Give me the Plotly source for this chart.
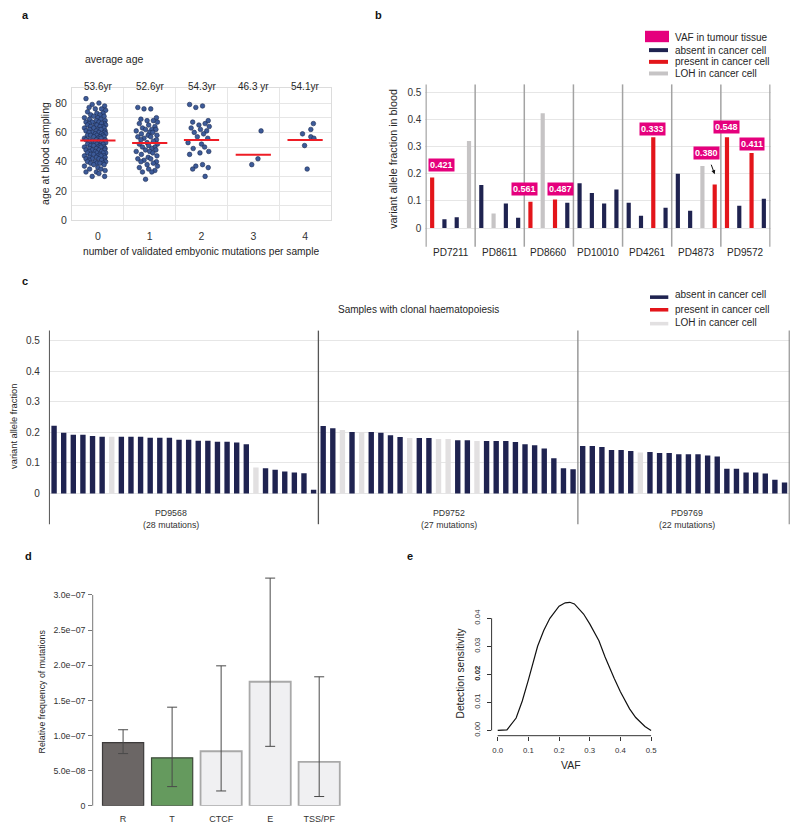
import plotly.graph_objects as go

W, H = 800, 836
FONT = "Liberation Sans, Arial, Helvetica, sans-serif"
TXT = "#262626"

# ---------------- panel a data ----------------
a_mutation_counts = [0, 1, 2, 3, 4]
a_ages_0 = [83, 80, 79, 78, 77, 76, 76, 75, 74, 73, 73, 72, 72, 71, 71, 70, 70, 69, 69, 68,
            68, 67, 67, 67, 66, 66, 66, 65, 65, 65, 65, 64, 64, 64, 63, 63, 63, 62, 62, 62,
            61, 61, 61, 60, 60, 60, 60, 59, 59, 59, 58, 58, 58, 58, 57, 57, 57, 56, 56, 56,
            55, 55, 55, 55, 54, 54, 54, 53, 53, 53, 53, 52, 52, 52, 51, 51, 51, 50, 50, 50,
            50, 49, 49, 49, 48, 48, 48, 48, 47, 47, 47, 46, 46, 46, 46, 45, 45, 45, 44, 44,
            44, 44, 43, 43, 43, 42, 42, 42, 41, 41, 41, 40, 40, 40, 39, 39, 39, 39, 38, 38,
            37, 36, 35, 35, 34, 33, 33, 32, 30, 30]
a_ages_1 = [77, 76, 76, 70, 69, 68, 68, 67, 66, 65, 64, 63, 62, 62, 62, 61, 60, 60, 59, 58,
            58, 57, 57, 56, 55, 55, 54, 53, 52, 52, 51, 50, 50, 49, 48, 48, 47, 47, 46, 45,
            44, 43, 42, 42, 41, 40, 40, 39, 38, 37, 36, 35, 34, 33, 33, 28]
a_ages_2 = [79, 78, 77, 68, 67, 66, 65, 64, 63, 62, 61, 60, 59, 57, 56, 53, 52, 50, 49, 47,
            46, 45, 38, 37, 36, 35, 30]
a_ages_3 = [61, 42, 38]
a_ages_4 = [59, 62, 66, 51, 57, 56, 35]
a_mean_age = [54.5, 52.8, 54.8, 44.8, 54.8]
a_avg_labels = ["53.6yr", "52.6yr", "54.3yr", "46.3 yr", "54.1yr"]

# horizontal jitter (display only)
JITTER = [-0.21, 0.04, -0.09, 0.15, -0.15, 0.09, -0.03, 0.17, -0.18, 0.0, 0.12, -0.12,
          0.06, -0.06, 0.14, -0.24, 0.02, 0.08, -0.14, 0.16, -0.01]
a_jitter_3 = [0.15, 0.09, -0.03]
a_jitter_4 = [-0.05, 0.11, 0.16, -0.01, 0.11, 0.17, 0.04]

# ---------------- panel b data ----------------
b_samples = ["PD7211", "PD8611", "PD8660", "PD10010", "PD4261", "PD4873", "PD9572"]
b_vaf = [0.186, 0.032, 0.040, 0.320,
         0.158, 0.054, 0.090, 0.038,
         0.097, 0.422, 0.105, 0.093,
         0.165, 0.129, 0.090, 0.142,
         0.093, 0.045, 0.334, 0.075,
         0.200, 0.064, 0.228, 0.160,
         0.334, 0.082, 0.276, 0.108]
b_status = ["present", "absent", "absent", "LOH",
            "absent", "LOH", "absent", "absent",
            "present", "LOH", "present", "absent",
            "absent", "absent", "absent", "absent",
            "absent", "absent", "present", "absent",
            "absent", "absent", "LOH", "present",
            "present", "absent", "present", "absent"]
b_tumour_vaf = ["0.421", "0.561", "0.487", "0.333", "0.380", "0.548", "0.411"]
b_tumour_bar = [0, 8, 10, 18, 23, 24, 26]

# ---------------- panel c data ----------------
c_samples = ["PD9568", "PD9752", "PD9769"]
c_counts = [28, 27, 22]
c_vaf = [0.221, 0.198, 0.192, 0.192, 0.188, 0.185, 0.185, 0.185, 0.185, 0.185,
         0.182, 0.182, 0.182, 0.175, 0.175, 0.172, 0.172, 0.169, 0.169, 0.166,
         0.161, 0.085, 0.082, 0.077, 0.072, 0.068, 0.066, 0.012,
         0.220, 0.213, 0.207, 0.201, 0.201, 0.201, 0.198, 0.190, 0.184, 0.181,
         0.181, 0.181, 0.178, 0.178, 0.174, 0.174, 0.171, 0.171, 0.171, 0.171,
         0.168, 0.161, 0.157, 0.147, 0.115, 0.082, 0.079,
         0.155, 0.155, 0.152, 0.142, 0.142, 0.139, 0.134, 0.135, 0.132, 0.132,
         0.128, 0.128, 0.128, 0.124, 0.121, 0.081, 0.081, 0.068, 0.068, 0.065,
         0.045, 0.036]
c_status = (["absent"] * 6 + ["LOH"] + ["absent"] * 14 + ["LOH"] + ["absent"] * 6
            + ["absent", "absent", "LOH", "absent", "LOH", "absent", "absent", "absent",
               "absent", "LOH", "absent", "absent", "LOH", "LOH", "absent", "absent",
               "LOH"] + ["absent"] * 10
            + ["absent"] * 6 + ["LOH"] + ["absent"] * 15)

# ---------------- panel d data ----------------
d_regions = ["R", "T", "CTCF", "E", "TSS/PF"]
d_freq = [0.900e-7, 0.683e-7, 0.777e-7, 1.766e-7, 0.627e-7]
d_low = [0.744e-7, 0.274e-7, 0.212e-7, 0.847e-7, 0.133e-7]
d_high = [1.083e-7, 1.404e-7, 1.992e-7, 3.240e-7, 1.836e-7]
d_ticks = [0, 0.5e-7, 1.0e-7, 1.5e-7, 2.0e-7, 2.5e-7, 3.0e-7]
d_ticktext = ["0", "5.0e\u221208", "1.0e\u221207", "1.5e\u221207", "2.0e\u221207",
              "2.5e\u221207", "3.0e\u221207"]

# ---------------- panel e data ----------------
e_vaf = [0.00, 0.02, 0.03, 0.06, 0.08, 0.10, 0.13, 0.15, 0.17, 0.20, 0.22, 0.235,
         0.25, 0.28, 0.30, 0.33, 0.35, 0.38, 0.40, 0.43, 0.45, 0.48, 0.50]
e_sensitivity = [0.0, 0.0, 0.0002, 0.0044, 0.0105, 0.018, 0.030, 0.0356, 0.040, 0.0443,
                 0.0455, 0.0457, 0.0451, 0.0415, 0.038, 0.032, 0.0262, 0.0185, 0.0138,
                 0.0077, 0.0046, 0.0014, 0.0]

# ---------------- styles ----------------
NAVY = "#1f2350"
RED = "#e3151a"
LOH_B = "#c6c4c5"
LOH_C = "#e2e0e1"
PINK = "#e5007d"
GRID = "#e6e6e6"
b_colors = {"absent": NAVY, "present": RED, "LOH": LOH_B}
c_colors = {"absent": NAVY, "present": RED, "LOH": LOH_C}


def xd(a, b):
    return [a / W, b / W]


def yd(top, bottom):
    return [1 - bottom / H, 1 - top / H]


def px(x):
    return x / W


def py(y):
    return 1 - y / H


fig = go.Figure()

# ---- panel a traces ----
a_groups = [a_ages_0, a_ages_1, a_ages_2, a_ages_3, a_ages_4]
ax_pts, ay_pts = [], []
for c, ages in zip(a_mutation_counts, a_groups):
    if c == 3:
        offs = a_jitter_3
    elif c == 4:
        offs = a_jitter_4
    else:
        offs = [JITTER[k % len(JITTER)] - 0.02 for k in range(len(ages))]
    for age, o in zip(ages, offs):
        ax_pts.append(c + o)
        ay_pts.append(age)
fig.add_trace(go.Scatter(x=ax_pts, y=ay_pts, mode="markers", xaxis="x", yaxis="y",
                         marker=dict(size=4.6, color="#3d5b99",
                                     line=dict(color="#1b2a50", width=0.6)),
                         hoverinfo="skip"))
mx, my = [], []
for c, m in zip(a_mutation_counts, a_mean_age):
    mx += [c - 0.34, c + 0.34, None]
    my += [m, m, None]
fig.add_trace(go.Scatter(x=mx, y=my, mode="lines", xaxis="x", yaxis="y",
                         line=dict(color="#ee1c25", width=2), hoverinfo="skip"))

# ---- panel b traces ----
for s in ["absent", "present", "LOH"]:
    idx = [i for i, st in enumerate(b_status) if st == s]
    fig.add_trace(go.Bar(x=idx, y=[b_vaf[i] for i in idx], width=0.34,
                         marker=dict(color=b_colors[s], line=dict(width=0)),
                         xaxis="x2", yaxis="y2", hoverinfo="skip"))

# ---- panel c traces ----
for s in ["absent", "LOH"]:
    idx = [i for i, st in enumerate(c_status) if st == s]
    fig.add_trace(go.Bar(x=idx, y=[c_vaf[i] for i in idx], width=0.56,
                         marker=dict(color=c_colors[s], line=dict(width=0)),
                         xaxis="x3", yaxis="y3", hoverinfo="skip"))

# ---- panel d traces ----
fig.add_trace(go.Bar(
    x=list(range(len(d_regions))), y=d_freq, width=0.84,
    marker=dict(color=["#6b6665", "#659a5e", "#f0f0f2", "#f0f0f2", "#f0f0f2"],
                line=dict(color=["#3d3b3b", "#3d4a3a", "#a9a9a9", "#a9a9a9", "#a9a9a9"],
                          width=[1.2, 1.2, 1.8, 1.8, 1.8])),
    error_y=dict(type="data", symmetric=False,
                 array=[h - v for h, v in zip(d_high, d_freq)],
                 arrayminus=[v - l for v, l in zip(d_freq, d_low)],
                 color="#4a4a4a", thickness=1, width=5),
    xaxis="x4", yaxis="y4", hoverinfo="skip"))

# ---- panel e traces ----
fig.add_trace(go.Scatter(x=e_vaf, y=e_sensitivity, mode="lines", xaxis="x5", yaxis="y5",
                         line=dict(color="#111111", width=1.2), hoverinfo="skip"))

annotations = []
shapes = []


def ann(x, y, text, size=10, xanchor="center", yanchor="middle", angle=0, color=TXT,
        xref="paper", yref="paper", bold=False):
    annotations.append(dict(
        x=px(x) if xref == "paper" else x, y=py(y) if yref == "paper" else y,
        xref=xref, yref=yref, text=("<b>%s</b>" % text) if bold else text,
        showarrow=False, xanchor=xanchor, yanchor=yanchor, textangle=angle,
        font=dict(family=FONT, size=size, color=color)))


# panel letters
ann(25, 15, "a", 11, bold=True, color="#111")
ann(378, 15, "b", 11, bold=True, color="#111")
ann(25, 283, "c", 11, bold=True, color="#111")
ann(29, 560, "d", 11, bold=True, color="#111")
ann(410, 560, "e", 11, bold=True, color="#111")

# panel a texts
ann(83, 59, "average age", 10.5, xanchor="left")
for c, lab in zip(a_mutation_counts, a_avg_labels):
    annotations.append(dict(x=c, y=py(80), xref="x", yref="paper", text=lab,
                            showarrow=False, font=dict(family=FONT, size=10, color=TXT)))
ann(45, 155, "age at blood sampling", 10.5, angle=-90)
ann(201, 253, "number of validated embyonic mutations per sample", 10.2)

# panel b texts
ann(393, 160, "variant allele fraction in blood", 10.8, angle=-90)
for g, name in enumerate(b_samples):
    annotations.append(dict(x=4 * g + 1.5, y=py(246.5), xref="x2", yref="paper", text=name,
                            showarrow=False, font=dict(family=FONT, size=10, color=TXT)))
b_label_pos = [(0.72, 0.233), (7.5, 0.144), (10.44, 0.144), (17.97, 0.365),
               (22.34, 0.277), (24.0, 0.371), (26.03, 0.31)]
for (lx, ly), lab in zip(b_label_pos, b_tumour_vaf):
    annotations.append(dict(x=lx, y=ly, xref="x2", yref="y2", text="<b>%s</b>" % lab,
                            showarrow=False, bgcolor=PINK, borderpad=1,
                            font=dict(family=FONT, size=9, color="white")))
arrow_bar = b_tumour_bar[4]
annotations.append(dict(x=arrow_bar, y=b_vaf[arrow_bar] + 0.038, xref="x2", yref="y2",
                        text="", showarrow=True, ax=-4, ay=-11, arrowhead=2,
                        arrowsize=0.8, arrowwidth=1, arrowcolor="#111", standoff=0))
# legend b
shapes.append(dict(type="rect", xref="paper", yref="paper", x0=px(645), x1=px(669),
                   y0=py(42.5), y1=py(31), fillcolor=PINK, line=dict(width=0)))
for yy, col in [(50.5, NAVY), (62.3, RED), (74, LOH_B)]:
    shapes.append(dict(type="rect", xref="paper", yref="paper", x0=px(649), x1=px(668),
                       y0=py(yy + 2), y1=py(yy - 2), fillcolor=col, line=dict(width=0)))
for yy, t in [(37.5, "VAF in tumour tissue"), (50.5, "absent in cancer cell"),
              (62.3, "present in cancer cell"), (74.3, "LOH in cancer cell")]:
    ann(673, yy, t, 10, xanchor="left")

# panel c texts
ann(418, 311.7, "Samples with clonal haematopoiesis", 10)
ann(14, 430, "variant allele fraction", 9.3, angle=-90)
c_label_x = [12.2, 41.1, 65.9]
for lx, name, n in zip(c_label_x, c_samples, c_counts):
    annotations.append(dict(x=lx, y=py(516.7), xref="x3", yref="paper", text=name,
                            showarrow=False, font=dict(family=FONT, size=8.8, color="#333")))
    annotations.append(dict(x=lx, y=py(529), xref="x3", yref="paper",
                            text="(%d mutations)" % n, showarrow=False,
                            font=dict(family=FONT, size=8.8, color="#333")))
for yy, col in [(299.3, NAVY), (312, RED), (326, LOH_C)]:
    shapes.append(dict(type="rect", xref="paper", yref="paper", x0=px(650), x1=px(668.3),
                       y0=py(yy + 1.8), y1=py(yy - 1.8), fillcolor=col, line=dict(width=0)))
for yy, t in [(296.7, "absent in cancer cell"), (311.3, "present in cancer cell"),
              (325.3, "LOH in cancer cell")]:
    ann(673, yy, t, 10, xanchor="left")

# group separators b
for k in range(len(b_samples) + 1):
    shapes.append(dict(type="line", xref="x2", yref="paper", x0=4 * k - 0.5, x1=4 * k - 0.5,
                       y0=py(248.5), y1=py(85), line=dict(color="#a3a3a3", width=1.5)))
# group separators c
bounds = [-0.5]
for n in c_counts:
    bounds.append(bounds[-1] + n)
sep_cols = ["#555555", "#555555", "#8a8a8a", "#8a8a8a"]
for b, col in zip(bounds, sep_cols):
    shapes.append(dict(type="line", xref="x3", yref="paper", x0=b, x1=b,
                       y0=py(528), y1=py(333), line=dict(color=col, width=1.3)))

# panel d texts / axis line
ann(41.7, 696.7, "Relative frequency of mutations", 8.8, angle=-90)
shapes.append(dict(type="line", xref="paper", yref="y4", x0=px(92.7), x1=px(92.7),
                   y0=d_ticks[0], y1=d_ticks[-1], line=dict(color="#777", width=1)))

# panel e texts / axis lines
ann(460, 677.3, "Detection sensitivity", 10.2, angle=-90)
ann(571, 771, "VAF", 10.5)
shapes.append(dict(type="line", xref="x5", yref="paper", x0=0, x1=0.5,
                   y0=py(741), y1=py(741), line=dict(color="#333", width=1)))
shapes.append(dict(type="line", xref="paper", yref="y5", x0=px(491.6), x1=px(491.6),
                   y0=0, y1=0.04, line=dict(color="#333", width=1)))

tickfont = dict(family=FONT, size=10, color="#333")

fig.update_layout(
    width=W, height=H, margin=dict(l=0, r=0, t=0, b=0),
    paper_bgcolor="white", plot_bgcolor="white", showlegend=False, barmode="overlay",
    font=dict(family=FONT, color=TXT),
    annotations=annotations, shapes=shapes,
    # panel a
    xaxis=dict(domain=xd(72, 331), range=[-0.5, 4.5], anchor="y", tickvals=a_mutation_counts,
               showgrid=False, zeroline=False, ticks="", tickfont=dict(family=FONT, size=10.5, color="#333"),
               minor=dict(tick0=0.5, dtick=1, showgrid=True, gridcolor=GRID, ticks=""),
               showline=True, mirror=True, linecolor="#dcdcdc", linewidth=1,
               ticklabelstandoff=6),
    yaxis=dict(domain=yd(89, 222), range=[0, 90], anchor="x", tick0=0, dtick=20,
               showgrid=True, gridcolor=GRID, zeroline=False, ticks="",
               minor=dict(tick0=0, dtick=10, showgrid=True, gridcolor=GRID, ticks=""),
               showline=True, mirror=True, linecolor="#dcdcdc", linewidth=1,
               tickfont=dict(family=FONT, size=10.5, color="#333"), ticklabelstandoff=2),
    # panel b
    xaxis2=dict(domain=xd(425.4, 770.6), range=[-0.55, 27.55], anchor="y2",
                showticklabels=False, showgrid=False, zeroline=False, ticks=""),
    yaxis2=dict(domain=yd(85, 248.5), range=[-0.0685, 0.528], anchor="x2",
                tickvals=[0, 0.1, 0.2, 0.3, 0.4, 0.5],
                ticktext=["0", "0.1", "0.2", "0.3", "0.4", "0.5"],
                showgrid=True, gridcolor=GRID, zeroline=False, ticks="",
                tickfont=tickfont, ticklabelstandoff=3),
    # panel c
    xaxis3=dict(domain=xd(48.8, 789.8), range=[-0.55, 76.55], anchor="y3",
                showticklabels=False, showgrid=False, zeroline=False, ticks=""),
    yaxis3=dict(domain=yd(333, 528), range=[-0.1006, 0.532], anchor="x3",
                tickvals=[0, 0.1, 0.2, 0.3, 0.4, 0.5],
                ticktext=["0", "0.1", "0.2", "0.3", "0.4", "0.5"],
                showgrid=True, gridcolor=GRID, zeroline=False, ticks="",
                tickfont=tickfont, ticklabelstandoff=8),
    # panel d
    xaxis4=dict(domain=xd(92.7, 348.6), range=[-0.62, 4.6], anchor="y4",
                tickvals=list(range(len(d_regions))), ticktext=d_regions,
                showgrid=False, zeroline=False, ticks="", showline=False,
                tickfont=dict(family=FONT, size=9, color="#333"), ticklabelstandoff=6),
    yaxis4=dict(domain=yd(574.5, 811.7), range=[0, 3.35e-7], anchor="x4",
                tickvals=d_ticks, ticktext=d_ticktext, showgrid=False, zeroline=False,
                ticks="outside", ticklen=3.5, tickcolor="#777", tickwidth=1,
                tickfont=dict(family=FONT, size=8.8, color="#333"), ticklabelstandoff=1),
    # panel e
    xaxis5=dict(domain=xd(491.6, 657.2), range=[-0.02, 0.52], anchor="y5",
                tickvals=[0, 0.1, 0.2, 0.3, 0.4, 0.5],
                ticktext=["0.0", "0.1", "0.2", "0.3", "0.4", "0.5"],
                showgrid=False, zeroline=False, ticks="outside", ticklen=4,
                tickcolor="#333", tickfont=dict(family=FONT, size=7.8, color="#333"),
                ticklabelstandoff=3),
    yaxis5=dict(domain=yd(602.4, 741), range=[-0.00188, 0.0472], anchor="x5",
                tickvals=[0, 0.01, 0.02, 0.03, 0.04],
                ticktext=["0.00", "0.01", "<b>0.02</b>", "0.03", "0.04"],
                tickangle=-90, showgrid=False, zeroline=False, ticks="outside", ticklen=4,
                tickcolor="#333", tickfont=dict(family=FONT, size=7.8, color="#333"),
                ticklabelstandoff=3),
)

fig.write_html("out.html",
               config={"displayModeBar": False},
               post_script="document.body.style.margin='0';"
                           "document.body.style.overflow='hidden';")
